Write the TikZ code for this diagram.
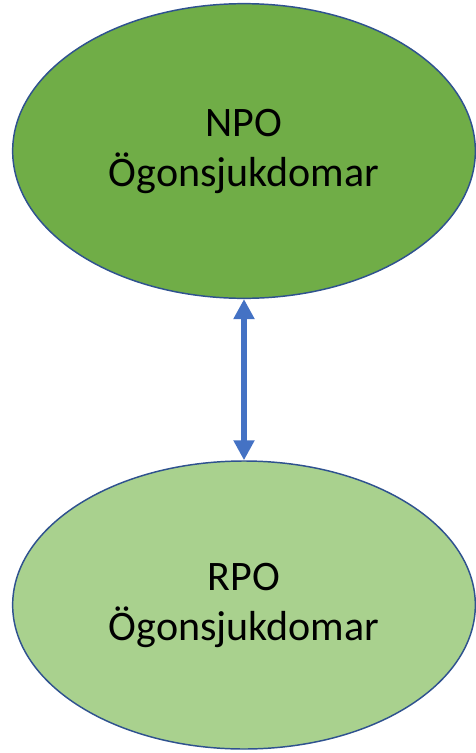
\documentclass[tikz,border=0pt]{standalone}
\usepackage{fontspec}
\setmainfont{Carlito}
\usetikzlibrary{shapes.geometric,arrows.meta}
\definecolor{darkgreen}{RGB}{112,173,71}
\definecolor{lightgreen}{RGB}{169,209,142}
\definecolor{rimblue}{RGB}{47,82,143}
\definecolor{linkblue}{RGB}{68,114,196}
\tikzset{
  blob/.style={ellipse, draw=rimblue, line width=1.1pt, minimum width=347pt, minimum height=221pt,
    align=center, font=\fontsize{31.5}{37.5}\selectfont, inner sep=0pt},
  link/.style={draw=linkblue, line width=4.3pt, {Triangle[length=15pt,width=15pt]}-{Triangle[length=15pt,width=15pt]}}
}
\begin{document}
\begin{tikzpicture}[x=0.75pt,y=0.75pt,yscale=-1,xscale=1]
%set diagram left start at 0, and has height of 753
\useasboundingbox (0,0) rectangle (475,753);

%Shape: Ellipse [id:npo]
\node [blob, fill=darkgreen] (npo) at (244,151) {NPO\\Ögonsjukdomar};
%Shape: Ellipse [id:rpo]
\node [blob, fill=lightgreen, minimum height=216pt] (rpo) at (244,605) {RPO\\Ögonsjukdomar};

%Straight Lines [id:link]
\draw [link] (npo) -- (rpo);

\end{tikzpicture}
\end{document}
